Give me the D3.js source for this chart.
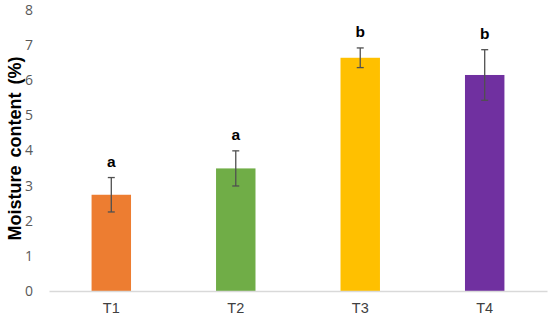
<!DOCTYPE html>
<html>
<head>
<meta charset="utf-8">
<script src="https://cdn.jsdelivr.net/npm/d3@7"></script>
<style>
  body { margin: 0; background: #fff; }
  svg { display: block; font-family: "Liberation Sans", Arial, sans-serif; }
</style>
</head>
<body>
<div id="container"></div>
<script>
let categories = ["T1", "T2", "T3", "T4"];
let values = [2.74, 3.49, 6.64, 6.15];
let errors = [0.49, 0.5, 0.28, 0.72];
let letters = ["a", "a", "b", "b"];
let colors = ["#ED7D31", "#70AD47", "#FFC000", "#7030A0"];
let yTicks = [0, 1, 2, 3, 4, 5, 6, 7, 8];

let width = 550, height = 321;
let margin = { top: 10, right: 3, bottom: 30, left: 49 };

let svg = d3.select('#container')
    .append('svg')
    .attr('width', width)
    .attr('height', height);

let x = d3.scaleBand()
    .domain(categories)
    .range([margin.left, width - margin.right])
    .paddingInner(0.683)
    .paddingOuter(0.342);

let y = d3.scaleLinear()
    .domain([0, 8])
    .range([height - margin.bottom, margin.top]);

// y tick labels, no axis line
let yAxis = svg.append('g')
    .attr('transform', `translate(${margin.left - 16},0)`)
    .call(d3.axisLeft(y).tickValues(yTicks).tickSize(0).tickPadding(0));
yAxis.select('.domain').remove();
yAxis.selectAll('text')
    .attr('font-size', 14)
    .attr('fill', '#595959')
    .attr('font-family', '"Open Sans", Arial, sans-serif');

// bars
svg.selectAll('rect.bar')
    .data(categories)
    .enter()
    .append('rect')
    .attr('class', 'bar')
    .attr('x', d => x(d))
    .attr('width', x.bandwidth())
    .attr('y', (d, i) => y(values[i]))
    .attr('height', (d, i) => y(0) - y(values[i]))
    .attr('fill', (d, i) => colors[i]);

// baseline
let xAxis = svg.append('g')
    .attr('transform', `translate(0,${y(0)})`)
    .call(d3.axisBottom(x).tickSize(0).tickPadding(12));
xAxis.select('.domain').attr('stroke', '#D9D9D9').attr('stroke-width', 1.5);
xAxis.selectAll('text')
    .attr('font-size', 14.5)
    .attr('fill', '#404040')
    .attr('font-family', '"Liberation Sans", Arial, sans-serif');

// error bars
let cap = 3.5;
let eb = svg.selectAll('g.err')
    .data(categories)
    .enter()
    .append('g')
    .attr('class', 'err')
    .attr('stroke', '#505050')
    .attr('stroke-width', 1.3);
eb.append('line')
    .attr('x1', d => x(d) + x.bandwidth() / 2)
    .attr('x2', d => x(d) + x.bandwidth() / 2)
    .attr('y1', (d, i) => y(values[i] + errors[i]))
    .attr('y2', (d, i) => y(values[i] - errors[i]));
eb.append('line')
    .attr('x1', d => x(d) + x.bandwidth() / 2 - cap)
    .attr('x2', d => x(d) + x.bandwidth() / 2 + cap)
    .attr('y1', (d, i) => y(values[i] + errors[i]))
    .attr('y2', (d, i) => y(values[i] + errors[i]));
eb.append('line')
    .attr('x1', d => x(d) + x.bandwidth() / 2 - cap)
    .attr('x2', d => x(d) + x.bandwidth() / 2 + cap)
    .attr('y1', (d, i) => y(values[i] - errors[i]))
    .attr('y2', (d, i) => y(values[i] - errors[i]));

// significance letters
svg.selectAll('text.letter')
    .data(categories)
    .enter()
    .append('text')
    .attr('class', 'letter')
    .attr('x', d => x(d) + x.bandwidth() / 2)
    .attr('y', (d, i) => y(values[i] + errors[i]) - 11)
    .attr('text-anchor', 'middle')
    .attr('font-size', 15.5)
    .attr('font-weight', 'bold')
    .attr('fill', '#000')
    .text((d, i) => letters[i]);

// y axis title
svg.append('text')
    .attr('transform', `translate(21,${(y(0) + y(8)) / 2 - 2}) rotate(-90)`)
    .attr('text-anchor', 'middle')
    .attr('font-size', 18)
    .attr('font-weight', 'bold')
    .attr('word-spacing', 3)
    .attr('fill', '#000')
    .text('Moisture content (%)');
</script>
</body>
</html>
